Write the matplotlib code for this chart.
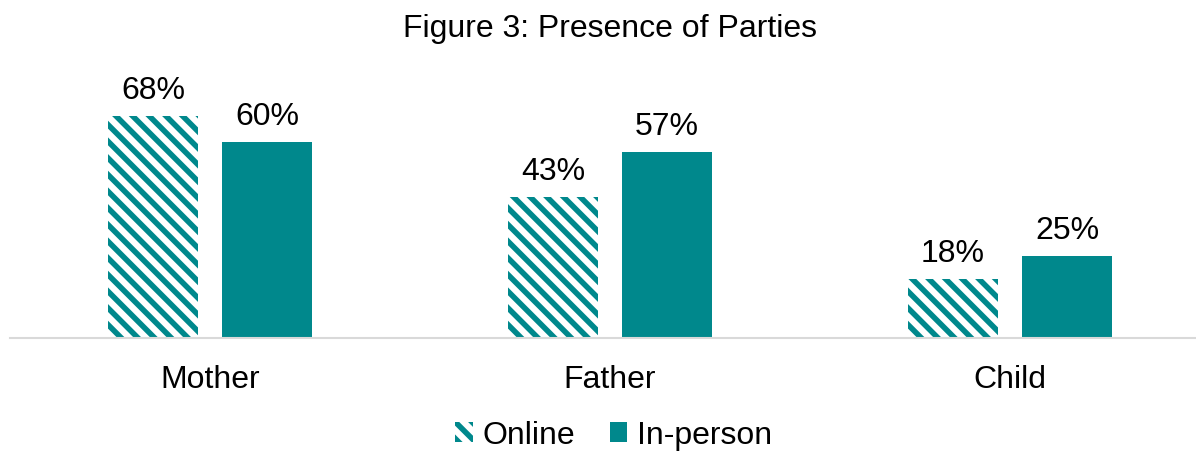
import numpy as np
import matplotlib.pyplot as plt

plt.rcParams['font.family'] = ['Liberation Sans', 'DejaVu Sans']
plt.rcParams['hatch.linewidth'] = 4.0

categories = ["Mother", "Father", "Child"]
online = [68, 43, 18]
in_person = [60, 57, 25]

teal = "#00888C"

fig = plt.figure(figsize=(11.96, 4.52), dpi=100)
ax = fig.add_axes([10 / 1196, 0.25, 1 - 10 / 1196, 0.64])

x = np.arange(len(categories))
w = 0.225
off = 0.1425

b1 = ax.bar(x - off, online, w, color="white", edgecolor=teal, hatch="\\\\", lw=0, label="Online")
b2 = ax.bar(x + off, in_person, w, color=teal, lw=0, label="In-person")

for bars, vals in [(b1, online), (b2, in_person)]:
    for b, v in zip(bars, vals):
        ax.annotate(f"{v}%", (b.get_x() + b.get_width() / 2, v), xytext=(0, 8),
                    textcoords="offset points", ha="center", va="bottom", fontsize=23)

ax.set_xlim(-0.5, 2.465)
ax.set_ylim(0, 88.5)
ax.set_xticks(x)
ax.set_xticklabels(categories, fontsize=23)
ax.tick_params(axis="x", length=0, pad=19)
ax.set_yticks([])
for s in ["top", "right", "left"]:
    ax.spines[s].set_visible(False)
ax.spines["bottom"].set_color("#d9d9d9")
ax.spines["bottom"].set_linewidth(1.5)

fig.text(0.51, 0.935, "Figure 3: Presence of Parties", ha="center", va="center", fontsize=23)

fig.legend(loc="center", bbox_to_anchor=(0.513, 0.035), ncol=2, frameon=False, fontsize=23,
           handlelength=0.55, handleheight=0.55, handletextpad=0.3, columnspacing=1.1)

fig.savefig("out.png", dpi=100)
